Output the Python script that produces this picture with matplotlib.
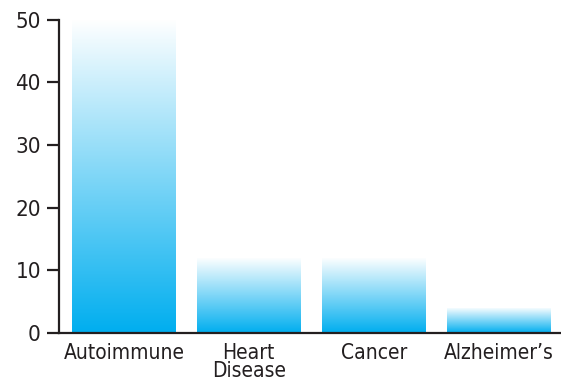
import numpy as np
import matplotlib.pyplot as plt
from matplotlib.colors import LinearSegmentedColormap

# values per disease group
categories = ["Autoimmune", "Heart\nDisease", "Cancer", "Alzheimer\u2019s"]
values = [50, 12, 12, 4]

plt.rcParams['font.family'] = ['DejaVu Sans']
plt.rcParams['font.stretch'] = 'condensed'

fig = plt.figure(figsize=(5.61, 3.88), dpi=100)
ax = fig.add_axes([59 / 561, 55 / 388, 1 - 59 / 561, 0.965 - 55 / 388])

ink = "#231f20"
cmap = LinearSegmentedColormap.from_list("fade", ["#ffffff", "#00aeef"])
grad = np.linspace(0, 1, 256).reshape(-1, 1)

x = np.arange(len(categories))
bars = ax.bar(x, values, width=0.832, color="none", edgecolor="none")
# fill each bar with a vertical white-to-cyan fade
for b in bars:
    x0, y0 = b.get_x(), b.get_y()
    w, h = b.get_width(), b.get_height()
    im = ax.imshow(grad, cmap=cmap, aspect="auto", origin="upper",
                   extent=[x0, x0 + w, y0, y0 + h], zorder=1)
    im.set_clip_path(b)

ax.set_xlim(-0.52, 3.5)
ax.set_ylim(0, 51)
ax.set_xticks(x)
ax.set_xticklabels(categories, linespacing=0.9)
ax.set_yticks([0, 10, 20, 30, 40, 50])

for s in ["top", "right"]:
    ax.spines[s].set_visible(False)
for s in ["left", "bottom"]:
    ax.spines[s].set_color(ink)
    ax.spines[s].set_linewidth(1.6)
ax.spines["left"].set_bounds(0, 50)

ax.tick_params(axis="y", length=9, width=1.6, color=ink, labelsize=16,
               labelcolor=ink, pad=4)
ax.tick_params(axis="x", length=0, labelsize=15, labelcolor=ink, pad=7)
for lab in ax.get_xticklabels():
    lab.set_verticalalignment("top")

fig.savefig("out.png", dpi=100)
